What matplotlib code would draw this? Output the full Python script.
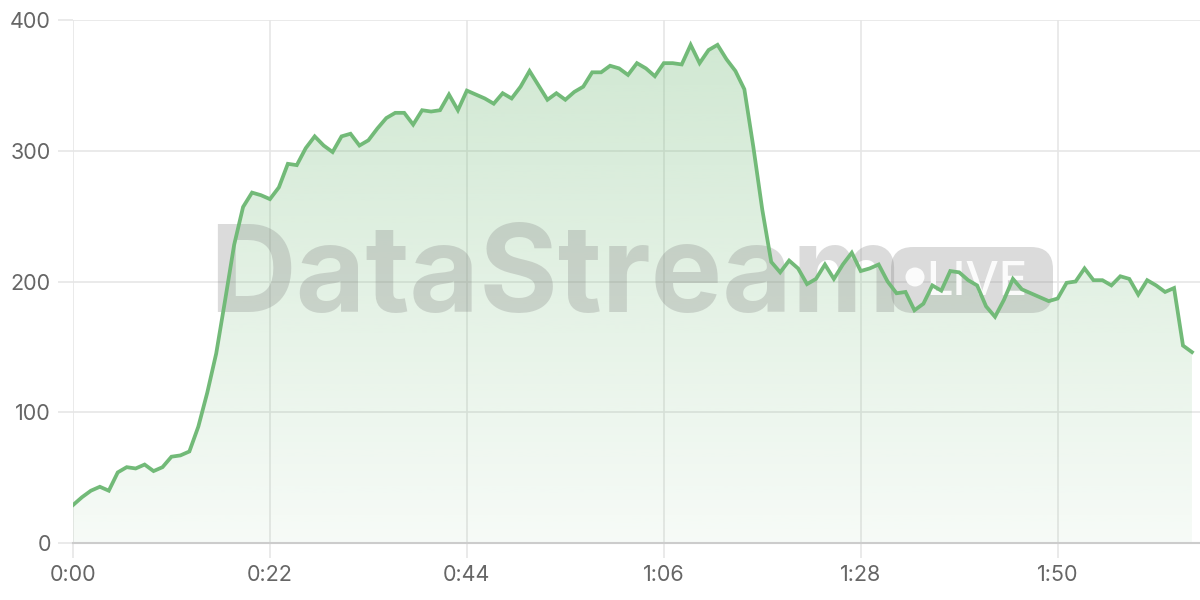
import numpy as np
import matplotlib.pyplot as plt
from matplotlib.patches import FancyBboxPatch, Circle
from matplotlib.transforms import IdentityTransform
from matplotlib.ticker import FuncFormatter

# values, one every second
seconds = list(range(126))
values = [29, 35, 40, 43, 40, 54, 58, 57, 60, 55,
          58, 66, 67, 70, 89, 115, 145, 186, 228, 257,
          268, 266, 263, 272, 290, 289, 302, 311, 304, 299,
          311, 313, 304, 308, 317, 325, 329, 329, 320, 331,
          330, 331, 343, 331, 346, 343, 340, 336, 344, 340,
          349, 361, 350, 339, 344, 339, 345, 349, 360, 360,
          365, 363, 358, 367, 363, 357, 367, 367, 366, 381,
          367, 377, 381, 370, 361, 347, 303, 255, 215, 207,
          216, 210, 198, 202, 213, 202, 213, 222, 208, 210,
          213, 200, 191, 192, 178, 183, 197, 193, 208, 207,
          201, 197, 181, 173, 186, 202, 194, 191, 188, 185,
          187, 199, 200, 210, 201, 201, 197, 204, 202, 190,
          201, 197, 192, 195, 151, 146]
x_ticks = [0, 22, 44, 66, 88, 110]
y_ticks = [0, 100, 200, 300, 400]

green = (114/255, 186/255, 120/255)
grid_col = '#e6e6e6'

fig = plt.figure(figsize=(12, 6), dpi=100)
ax = fig.add_axes([73/1200, 57/600, 1127/1200, 523/600])

ax.set_xlim(0, 125.9)
ax.set_ylim(0, 400)

# gradient fill under the line
poly = ax.fill_between(seconds, values, 0, color='none', lw=0)
grad = np.zeros((256, 1, 4))
grad[:, 0, 0] = green[0]
grad[:, 0, 1] = green[1]
grad[:, 0, 2] = green[2]
grad[:, 0, 3] = np.linspace(0.34, 0.06, 256)
img = ax.imshow(grad, extent=[0, 125, 0, 400], aspect='auto', origin='upper', zorder=1)
path = poly.get_paths()[0]
img.set_clip_path(path, transform=ax.transData)

ax.plot(seconds, values, color=green, lw=2.7, zorder=4, solid_joinstyle='miter')

# watermark (pixel coordinates)
px = IdentityTransform()
ax.text(209, 600 - 312, 'DataStream', transform=px, fontsize=86.5,
        fontweight='bold', family='Inter', ha='left', va='baseline',
        color='#808080', alpha=0.28, zorder=3)
pill = FancyBboxPatch((891, 600 - 313), 162, 66, transform=px,
                      boxstyle='round,pad=0,rounding_size=22',
                      facecolor='#808080', alpha=0.28, edgecolor='none', zorder=3,
                      clip_on=False)
ax.add_patch(pill)
dot = Circle((915, 600 - 277), 9.5, transform=px, facecolor='white', alpha=0.9,
             edgecolor='none', zorder=3, clip_on=False)
ax.add_patch(dot)
ax.text(926, 600 - 295, 'LIVE', transform=px, color='white', fontsize=34,
        ha='left', va='baseline', family='Inter', fontweight='medium', alpha=0.9, zorder=3)

ax.set_xticks(x_ticks)
ax.set_yticks(y_ticks)
ax.xaxis.set_major_formatter(FuncFormatter(lambda t, p: f"{int(t)//60}:{int(t)%60:02d}"))
ax.grid(True, color=grid_col, lw=1.2, zorder=0)
ax.set_axisbelow(True)
for s in ['top', 'right', 'left']:
    ax.spines[s].set_visible(False)
ax.spines['bottom'].set_color('#cccccc')
ax.spines['bottom'].set_linewidth(1.5)
ax.tick_params(axis='both', length=11, width=1.2, color=grid_col, labelcolor='#666666',
               labelsize=15.5, pad=5)
for lbl in ax.get_xticklabels() + ax.get_yticklabels():
    lbl.set_family('Inter')

fig.savefig('out.png', dpi=100)
